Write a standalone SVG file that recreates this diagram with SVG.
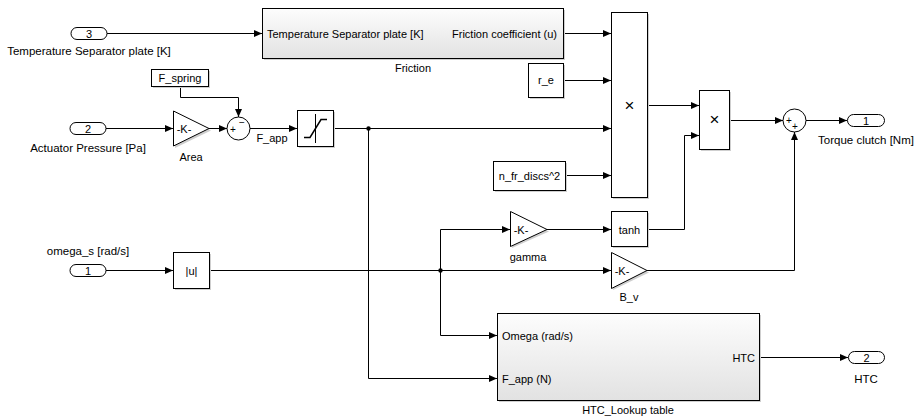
<svg xmlns="http://www.w3.org/2000/svg" width="914" height="418" viewBox="0 0 914 418">
<defs>
<style>
.blk{fill:#fff;stroke:#000;stroke-width:1}
.sub{fill:url(#g);stroke:#000;stroke-width:1}
.sh{fill:#cfcfcf;stroke:none}
.ln{fill:none;stroke:#000;stroke-width:1}
text{font-family:"Liberation Sans",Arial,sans-serif;font-size:11px;fill:#000}
.lbl{font-size:11.5px;text-anchor:middle}
.c{text-anchor:middle}
.e{text-anchor:end}
.sg{font-size:10px;text-anchor:middle}
.x{font-size:17px;text-anchor:middle}
</style>
<linearGradient id="g" x1="0" y1="0" x2="0" y2="1">
<stop offset="0" stop-color="#fdfdfd"/>
<stop offset="1" stop-color="#e2e2e2"/>
</linearGradient>
<marker id="a" markerUnits="userSpaceOnUse" markerWidth="9" markerHeight="8" refX="8" refY="4" orient="auto">
<path d="M0,0.5 L8,4 L0,7.5 z" fill="#000"/>
</marker>
</defs>
<rect width="914" height="418" fill="#fff"/>

<g id="connectors" class="ln" marker-end="url(#a)">
<path d="M107,33.5 H262"/>
<path d="M563,33.5 H611"/>
<path d="M180.5,86 V97.5 H238.5 V117"/>
<path d="M106,128.5 H173"/>
<path d="M209,128.5 H227"/>
<path d="M250,128.5 H297"/>
<path d="M333,128.5 H611"/>
<path d="M368.5,128.5 V378.5 H497"/>
<path d="M563,80.5 H611"/>
<path d="M565,175.5 H611"/>
<path d="M647,105.5 H699"/>
<path d="M729,120.5 H783"/>
<path d="M806,120.5 H847"/>
<path d="M106,270.5 H173"/>
<path d="M209,270.5 H611"/>
<path d="M440.5,270.5 V229.5 H510"/>
<path d="M440.5,270.5 V335.5 H497"/>
<path d="M547,229.5 H611"/>
<path d="M647,229.5 H684.5 V135.5 H699"/>
<path d="M647,270.5 H794.5 V132"/>
<path d="M759,357.5 H848"/>
</g>
<g id="dots">
<circle cx="368.5" cy="128.5" r="2.2" fill="#000"/>
<circle cx="440.5" cy="270.5" r="2.2" fill="#000"/>
</g>

<g id="in3">
<rect x="71" y="27.5" width="36" height="12" rx="6" class="blk"/>
<text x="89" y="37.5" class="c">3</text>
<text x="89" y="55" class="lbl">Temperature Separator plate [K]</text>
</g>
<g id="friction">
<rect x="264" y="10" width="301" height="50" class="sh"/>
<rect x="262.5" y="8.5" width="301" height="50" class="sub"/>
<text x="267" y="37.5">Temperature Separator plate [K]</text>
<text x="557" y="37.5" class="e">Friction coefficient (u)</text>
<text x="413" y="72" class="c">Friction</text>
</g>
<g id="fspring">
<rect x="153" y="71" width="57" height="17" class="sh"/>
<rect x="151.5" y="69.5" width="57" height="17" class="blk"/>
<text x="180" y="82" class="c">F_spring</text>
</g>
<g id="in2">
<rect x="70" y="122.5" width="36" height="12" rx="6" class="blk"/>
<text x="88" y="132.5" class="c">2</text>
<text x="88" y="152" class="lbl">Actuator Pressure [Pa]</text>
</g>
<g id="area">
<path d="M175,113 L211,130.5 L175,148 z" class="sh"/>
<path d="M173.5,111 L209,128.5 L173.5,146 z" class="blk"/>
<text x="184" y="132.5" class="c">-K-</text>
<text x="191" y="161" class="c">Area</text>
</g>
<g id="sum1">
<circle cx="238.5" cy="128.5" r="11.5" class="blk"/>
<text x="233" y="133" class="sg">+</text>
<text x="242" y="126" class="sg">−</text>
</g>
<text x="272" y="142" class="c">F_app</text>
<g id="saturation">
<rect x="299" y="112" width="36" height="36" class="sh"/>
<rect x="297.5" y="110.5" width="36" height="36" class="blk"/>
<path d="M315.5,114 V143" class="ln"/>
<path d="M304,137.5 H310 L321,119.5 H327" fill="none" stroke="#000" stroke-width="1.5"/>
</g>
<g id="re">
<rect x="530" y="65" width="35" height="34" class="sh"/>
<rect x="528.5" y="63.5" width="35" height="34" class="blk"/>
<text x="546" y="84" class="c">r_e</text>
</g>
<g id="nfr">
<rect x="495" y="163" width="72" height="29" class="sh"/>
<rect x="493.5" y="161.5" width="72" height="29" class="blk"/>
<text x="529.5" y="179.5" class="c">n_fr_discs^2</text>
</g>
<g id="product1">
<rect x="613" y="14" width="36" height="185" class="sh"/>
<rect x="611.5" y="12.5" width="36" height="185" class="blk"/>
<text x="629.5" y="111" class="x">×</text>
</g>
<g id="product2">
<rect x="701" y="92" width="30" height="59" class="sh"/>
<rect x="699.5" y="90.5" width="30" height="59" class="blk"/>
<text x="714.5" y="125" class="x">×</text>
</g>
<g id="sum2">
<circle cx="794.5" cy="120.5" r="11.5" class="blk"/>
<text x="789" y="124" class="sg">+</text>
<text x="795" y="130" class="sg">+</text>
</g>
<g id="out1">
<rect x="847.5" y="114.5" width="37" height="12" rx="6" class="blk"/>
<text x="866" y="124.5" class="c">1</text>
<text x="866" y="144" class="lbl">Torque clutch [Nm]</text>
</g>
<g id="in1">
<text x="88" y="255" class="lbl">omega_s [rad/s]</text>
<rect x="70" y="264.5" width="36" height="12" rx="6" class="blk"/>
<text x="88" y="274.5" class="c">1</text>
</g>
<g id="abs">
<rect x="175" y="254" width="36" height="36" class="sh"/>
<rect x="173.5" y="252.5" width="36" height="36" class="blk"/>
<text x="191.5" y="274.5" class="c">|u|</text>
</g>
<g id="gamma">
<path d="M512,213 L549,231.5 L512,248 z" class="sh"/>
<path d="M510.5,211.5 L547,229.5 L510.5,246.5 z" class="blk"/>
<text x="521" y="233.5" class="c">-K-</text>
<text x="528" y="261" class="c">gamma</text>
</g>
<g id="tanh">
<rect x="613" y="213" width="36" height="35" class="sh"/>
<rect x="611.5" y="211.5" width="36" height="35" class="blk"/>
<text x="629.5" y="233.5" class="c">tanh</text>
</g>
<g id="bv">
<path d="M613,254 L649,272.5 L613,290 z" class="sh"/>
<path d="M611.5,252.5 L647,270.5 L611.5,288.5 z" class="blk"/>
<text x="622" y="274.5" class="c">-K-</text>
<text x="629" y="301" class="c">B_v</text>
</g>
<g id="htc">
<rect x="499" y="315" width="262" height="87" class="sh"/>
<rect x="497.5" y="313.5" width="262" height="87" class="sub"/>
<text x="502" y="339.5">Omega (rad/s)</text>
<text x="502" y="382.5">F_app (N)</text>
<text x="755" y="361.5" class="e">HTC</text>
<text x="628" y="414" class="c">HTC_Lookup table</text>
</g>
<g id="out2">
<rect x="848.5" y="351.5" width="36" height="12" rx="6" class="blk"/>
<text x="866.5" y="361.5" class="c">2</text>
<text x="866" y="383" class="lbl">HTC</text>
</g>
</svg>
